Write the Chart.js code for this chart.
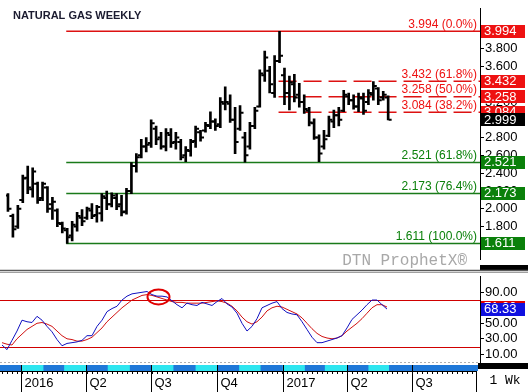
<!DOCTYPE html>
<html lang="en">
<head>
  <meta charset="UTF-8">
  <title>Natural Gas Weekly</title>
  <script src="https://cdn.jsdelivr.net/npm/chart.js"></script>
  <style>
    html, body { margin: 0; padding: 0; background: #fff; }
    #wrap { position: relative; width: 528px; height: 392px; overflow: hidden; }
    #priceBox { position: absolute; left: 0; top: 0; width: 528px; height: 268px; }
    #stochBox { position: absolute; left: 0; top: 268px; width: 528px; height: 124px; }
  </style>
</head>
<body>
  <div id="wrap">
    <div id="priceBox"><canvas id="priceChart" width="528" height="268"></canvas></div>
    <div id="stochBox"><canvas id="stochChart" width="528" height="124"></canvas></div>
  </div>

  <script>
    // weekly bars, first bar is the week of 2015-12-05
    const firstWeek = '2015-12-05';
    const opens  = [2.15,1.92,1.80,2.10,2.35,2.22,2.28,2.12,2.24,2.05,1.98,1.83,1.76,1.70,1.80,1.90,1.90,1.98,1.93,1.95,
                    2.12,2.05,2.12,2.05,1.97,2.20,2.48,2.60,2.70,2.74,2.90,2.80,2.70,2.83,2.75,2.75,2.60,2.65,2.76,2.86,
                    2.88,2.93,2.98,2.95,3.18,3.18,3.00,2.90,2.80,2.70,2.93,3.15,3.50,3.55,3.30,3.66,3.50,3.30,3.40,3.28,
                    3.20,3.10,2.96,2.80,2.70,2.82,2.98,3.05,3.10,3.26,3.22,3.15,3.24,3.20,3.28,3.35,3.25,3.25];
    const highs  = [2.17,1.94,2.04,2.38,2.48,2.46,2.30,2.30,2.25,2.13,2.00,1.85,1.78,1.86,1.96,1.99,2.02,2.06,2.04,2.17,
                    2.20,2.18,2.17,2.15,2.23,2.52,2.62,2.78,2.80,3.00,2.93,2.86,2.90,2.90,2.86,2.78,2.70,2.78,2.93,2.88,
                    2.97,3.09,3.01,3.25,3.37,3.28,3.14,3.16,2.86,2.97,3.14,3.56,3.77,3.60,3.72,3.994,3.58,3.49,3.51,3.41,
                    3.28,3.14,3.01,2.83,2.88,3.04,3.11,3.14,3.33,3.30,3.28,3.30,3.30,3.34,3.43,3.36,3.32,3.27];
    const lows   = [1.97,1.68,1.78,2.07,2.17,2.13,2.06,2.09,1.96,1.88,1.80,1.73,1.611,1.64,1.75,1.81,1.88,1.89,1.85,1.86,
                    1.99,2.02,1.99,1.92,1.94,2.17,2.41,2.57,2.64,2.69,2.72,2.67,2.65,2.69,2.67,2.55,2.53,2.59,2.69,2.76,
                    2.86,2.90,2.88,2.91,3.11,2.97,2.62,2.88,2.525,2.67,2.90,3.14,3.43,3.30,3.25,3.64,3.17,3.11,3.20,3.14,
                    3.07,2.93,2.78,2.53,2.67,2.81,2.91,2.93,3.09,3.17,3.12,3.09,3.06,3.17,3.22,3.17,3.22,2.999];
    const closes = [2.00,1.77,2.00,2.34,2.24,2.42,2.10,2.28,2.00,2.08,1.84,1.78,1.68,1.82,1.92,1.86,2.00,1.92,2.02,2.14,
                    2.05,2.15,2.03,1.96,2.20,2.48,2.58,2.70,2.72,2.96,2.78,2.70,2.85,2.74,2.80,2.58,2.66,2.75,2.90,2.80,
                    2.94,2.98,2.93,3.20,3.20,3.00,2.75,3.08,2.60,2.93,3.10,3.52,3.70,3.40,3.66,3.72,3.30,3.42,3.25,3.20,
                    3.12,2.97,2.80,2.62,2.78,3.00,3.05,3.00,3.28,3.22,3.15,3.25,3.10,3.30,3.38,3.22,3.28,2.999];

    // slow stochastic, %K (blue) and %D (red)
    const stochK = [22,16,28,40,54,52,51,59,54,46,39,29,21,24,25,26,28,34,34,46,
                    54,65,69,72,80,85,88,89,90,91,87,85,85,84,79,74,70,76,74,73,
                    77,75,73,78,82,75,71,63,50,40,46,56,70,73,76,78,69,64,62,61,
                    52,42,32,25,25,27,29,31,34,44,55,61,67,74,80,80,74,68.33];
    const stochD = [25,23,22,30,36,42,46,50,51,49,46,40,34,30,29,27,27,29,32,38,
                    44,52,58,64,70,75,80,83,86,87,86,84,82,80,78,77,77,76,76,76,
                    76,77,78,79,78,76,72,66,58,52,49,52,58,66,70,72,71,68,65,62,
                    57,50,43,37,33,31,30,31,34,40,45,50,56,63,70,74,74,71];

    const priceTicks = [1.6, 1.8, 2.0, 2.2, 2.4, 2.6, 2.8, 3.0, 3.2, 3.4, 3.6, 3.8, 4.0];
    const stochTicks = [10, 30, 50, 70, 90];
    const stochLevels = [80, 20];

    const fibLevels = [3.994, 3.432, 3.258, 3.084, 2.521, 2.173, 1.611];
    const fibLabels = ['3.994 (0.0%)', '3.432 (61.8%)', '3.258 (50.0%)', '3.084 (38.2%)',
                       '2.521 (61.8%)', '2.173 (76.4%)', '1.611 (100.0%)'];
    const fibStart  = [12, 55, 55, 55, 12, 12, 12];   // bar the level is drawn from
    const fibDashed = [false, true, true, true, false, false, false];
    const lastPrice = 2.999;

    const quarterDates  = ['2016-01-01', '2016-04-01', '2016-07-01', '2016-10-01', '2017-01-01', '2017-04-01', '2017-07-01'];
    const quarterLabels = ['2016', 'Q2', 'Q3', 'Q4', '2017', 'Q2', 'Q3'];

    // red circle drawn on the stochastic
    const circleWeek = 31.3;
    const circleValue = 84;

    const RED = '#ee1111';
    const GREEN = '#0a800a';
    const FONT = '"Liberation Sans", Arial, sans-serif';
    const X_MIN = -0.4, X_MAX = 95.6;

    function weekIndex(d) {
      return (Date.parse(d) - Date.parse(firstWeek)) / (7 * 864e5);
    }

    const idx = highs.map((_, i) => i);

    function drawTag(ctx, x, yc, bg, text) {
      ctx.fillStyle = bg;
      ctx.fillRect(x, Math.round(yc - 6.5), 44, 13);
      ctx.fillStyle = '#fff';
      ctx.textAlign = 'left';
      ctx.textBaseline = 'middle';
      ctx.fillText(text, x + 3, Math.round(yc) + 0.5);
    }

    const priceDecor = {
      id: 'priceDecor',
      afterDatasetsDraw(chart) {
        const { ctx, chartArea, scales: { y } } = chart;
        ctx.save();
        ctx.font = '12px ' + FONT;
        ctx.textAlign = 'right';
        ctx.textBaseline = 'middle';
        fibLevels.forEach((v, k) => {
          ctx.fillStyle = v > 2.9 ? RED : GREEN;
          ctx.fillText(fibLabels[k], chartArea.right - 3, y.getPixelForValue(v) - 7);
        });
        ctx.textAlign = 'left';
        ctx.font = 'bold 11px ' + FONT;
        ctx.fillStyle = '#1b1b30';
        ctx.fillText('NATURAL GAS WEEKLY', 13, 16);
        ctx.font = '16px "Liberation Mono", "Courier New", monospace';
        ctx.fillStyle = '#a8a8a8';
        ctx.textAlign = 'right';
        ctx.fillText('DTN ProphetX\u00ae', 467, 261);
        ctx.restore();
      },
      afterDraw(chart) {
        const { ctx, chartArea, scales: { y } } = chart;
        ctx.save();
        ctx.font = '13px ' + FONT;
        fibLevels.forEach(v => drawTag(ctx, chartArea.right + 1, y.getPixelForValue(v), v > 2.9 ? RED : GREEN, v.toFixed(3)));
        drawTag(ctx, chartArea.right + 1, y.getPixelForValue(lastPrice), '#000', lastPrice.toFixed(3));
        ctx.fillStyle = '#000';
        ctx.fillRect(chartArea.right, chart.height - 3, chart.width - chartArea.right, 3);
        ctx.restore();
      }
    };

    const fibSets = fibLevels.map((v, k) => ({
      type: 'line',
      data: [{ x: fibStart[k] - 0.2, y: v }, { x: X_MAX, y: v }],
      borderColor: v > 2.9 ? '#dd1111' : '#1a7a1a',
      borderWidth: 1.5,
      borderDash: fibDashed[k] ? [18, 7] : [],
      pointRadius: 0,
      order: 10
    }));

    new Chart(document.getElementById('priceChart'), {
      type: 'bar',
      data: {
        datasets: [
          {
            type: 'bar',
            data: idx.map(i => ({ x: i, y: [lows[i], highs[i]] })),
            backgroundColor: '#000',
            barThickness: 2,
            order: 2
          },
          {
            type: 'line',
            data: idx.map(i => ({ x: i - 0.4, y: opens[i] })),
            showLine: false,
            pointStyle: 'line',
            pointRadius: 1.5,
            borderColor: '#000',
            borderWidth: 2,
            order: 1
          },
          {
            type: 'line',
            data: idx.map(i => ({ x: i + 0.4, y: closes[i] })),
            showLine: false,
            pointStyle: 'line',
            pointRadius: 1.5,
            borderColor: '#000',
            borderWidth: 2,
            order: 1
          },
          ...fibSets
        ]
      },
      options: {
        responsive: false,
        animation: false,
        layout: { padding: 0 },
        plugins: { legend: { display: false }, tooltip: { enabled: false } },
        scales: {
          x: { type: 'linear', min: X_MIN, max: X_MAX, offset: false, display: false, grid: { offset: false } },
          y: {
            position: 'right',
            min: 1.434,
            max: 4.246,
            afterFit(s) { s.width = 48; },
            afterBuildTicks(s) { s.ticks = priceTicks.map(v => ({ value: v })); },
            ticks: {
              callback: v => Number(v).toFixed(3),
              font: { family: FONT, size: 13 },
              color: '#000',
              padding: 1
            },
            grid: { drawOnChartArea: false, tickLength: 4, color: '#000' },
            border: { color: '#000', width: 1 }
          }
        }
      },
      plugins: [priceDecor]
    });

    const stochDecor = {
      id: 'stochDecor',
      beforeDatasetsDraw(chart) {
        const { ctx, chartArea: a, scales: { y } } = chart;
        ctx.save();
        ctx.strokeStyle = '#d00000';
        ctx.lineWidth = 1;
        stochLevels.forEach(v => {
          const py = Math.round(y.getPixelForValue(v)) + 0.5;
          ctx.beginPath(); ctx.moveTo(a.left, py); ctx.lineTo(a.right, py); ctx.stroke();
        });
        ctx.restore();
      },
      afterDraw(chart) {
        const { ctx, chartArea: a, scales: { x, y } } = chart;
        const W = chart.width, H = chart.height;
        ctx.save();

        // panel separator
        ctx.fillStyle = '#000';
        ctx.fillRect(a.right, 0, W - a.right, 2);
        ctx.strokeStyle = '#5a5a5a'; ctx.lineWidth = 1.5;
        ctx.beginPath(); ctx.moveTo(0, 2.5); ctx.lineTo(W, 2.5); ctx.stroke();
        ctx.strokeStyle = '#a0a0a0'; ctx.lineWidth = 1;
        ctx.beginPath(); ctx.moveTo(0, 4.5); ctx.lineTo(W, 4.5); ctx.stroke();

        // highlight circle
        ctx.strokeStyle = '#e00000'; ctx.lineWidth = 2;
        ctx.beginPath();
        ctx.ellipse(x.getPixelForValue(circleWeek), y.getPixelForValue(circleValue), 11, 7.5, 0, 0, Math.PI * 2);
        ctx.stroke();

        // dotted bottom line of the panel
        ctx.setLineDash([2, 2]);
        ctx.strokeStyle = '#b0b0b0'; ctx.lineWidth = 1;
        ctx.beginPath(); ctx.moveTo(0, a.bottom - 0.5); ctx.lineTo(a.right, a.bottom - 0.5); ctx.stroke();
        ctx.setLineDash([]);

        // month band
        const bandTop = a.bottom + 2, bandH = 6;
        ctx.fillStyle = '#1f78d8';
        ctx.fillRect(0, bandTop, a.right - 2, bandH);
        ctx.fillStyle = '#2ee6f0';
        const lastBar = idx.length - 1;
        for (let m = 1; m < 20; m += 2) {
          const start = weekIndex(new Date(Date.UTC(2015, 11 + m, 1)).toISOString());
          const end = weekIndex(new Date(Date.UTC(2015, 12 + m, 1)).toISOString());
          if (start > lastBar) break;
          const x0 = x.getPixelForValue(start), x1 = x.getPixelForValue(Math.min(end, lastBar + 0.4));
          ctx.fillRect(x0, bandTop, x1 - x0, bandH);
        }
        ctx.fillStyle = '#000';
        ctx.fillRect(a.right - 2, a.bottom, W - a.right + 2, 6);

        // weekly ticks
        const tickTop = bandTop + bandH;
        ctx.strokeStyle = '#000'; ctx.lineWidth = 1;
        ctx.beginPath(); ctx.moveTo(0, tickTop + 0.5); ctx.lineTo(a.right - 3, tickTop + 0.5); ctx.stroke();
        for (let i = 0; i <= X_MAX; i++) {
          const px = Math.round(x.getPixelForValue(i)) + 0.5;
          if (px > a.right - 3) break;
          ctx.beginPath(); ctx.moveTo(px, tickTop); ctx.lineTo(px, tickTop + 3); ctx.stroke();
        }

        // quarter lines and labels
        ctx.font = '13px ' + FONT;
        ctx.fillStyle = '#000';
        ctx.textAlign = 'left';
        ctx.textBaseline = 'middle';
        quarterDates.forEach((d, k) => {
          const px = Math.round(x.getPixelForValue(weekIndex(d))) + 0.5;
          ctx.beginPath(); ctx.moveTo(px, bandTop); ctx.lineTo(px, H); ctx.stroke();
          ctx.fillText(quarterLabels[k], px + 3, H - 9);
        });
        const sep = a.right - 3.5;
        ctx.beginPath(); ctx.moveTo(sep, tickTop); ctx.lineTo(sep, H); ctx.stroke();

        ctx.font = '13px "Liberation Mono", "Courier New", monospace';
        ctx.textAlign = 'center';
        ctx.fillText('1 Wk', (a.right + W) / 2 + 1, H - 11);

        // value tags
        ctx.font = '13px ' + FONT;
        drawTag(ctx, a.right + 1, y.getPixelForValue(stochD[lastBar]), '#e00000', stochD[lastBar].toFixed(2));
        drawTag(ctx, a.right + 1, y.getPixelForValue(stochK[lastBar]), '#1010e0', stochK[lastBar].toFixed(2));
        ctx.restore();
      }
    };

    new Chart(document.getElementById('stochChart'), {
      type: 'line',
      data: {
        datasets: [
          { data: idx.map(i => ({ x: i, y: stochK[i] })), borderColor: '#1010c0', borderWidth: 1, pointRadius: 0 },
          { data: idx.map(i => ({ x: i, y: stochD[i] })), borderColor: '#d01010', borderWidth: 1, pointRadius: 0 }
        ]
      },
      options: {
        responsive: false,
        animation: false,
        layout: { padding: { top: 6, bottom: 29 } },
        plugins: { legend: { display: false }, tooltip: { enabled: false } },
        scales: {
          x: { type: 'linear', min: X_MIN, max: X_MAX, display: false },
          y: {
            position: 'right',
            min: -1.25,
            max: 110,
            afterFit(s) { s.width = 48; },
            afterBuildTicks(s) { s.ticks = stochTicks.map(v => ({ value: v })); },
            ticks: {
              callback: v => Number(v).toFixed(2),
              font: { family: FONT, size: 13 },
              color: '#000',
              padding: 1
            },
            grid: { drawOnChartArea: false, tickLength: 4, color: '#000' },
            border: { color: '#000', width: 1 }
          }
        }
      },
      plugins: [stochDecor]
    });
  </script>
</body>
</html>
